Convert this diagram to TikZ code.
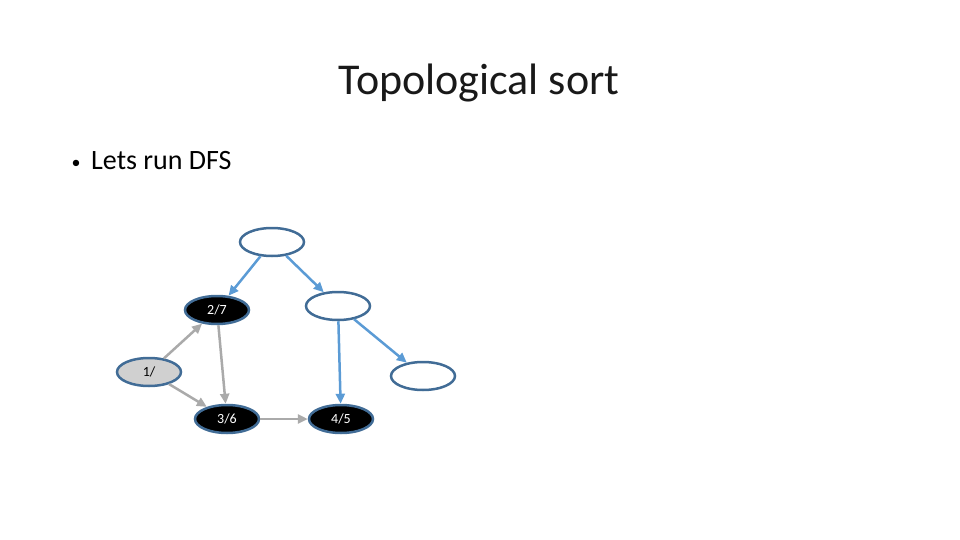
\documentclass[tikz,border=0pt]{standalone}
\usepackage{fontspec}
\setmainfont{Carlito}
\usepackage{tikz}
\usetikzlibrary{arrows.meta,shapes.geometric}
\usepackage{xcolor}
\definecolor{nodeline}{RGB}{65,108,150}
\definecolor{treeedge}{RGB}{91,155,213}
\definecolor{visitedge}{RGB}{170,170,170}
\definecolor{startfill}{RGB}{208,208,208}

\begin{document}
\begin{tikzpicture}[
  x=1pt,y=-1pt,
  vertex/.style={
    ellipse,draw=nodeline,line width=2.5pt,
    minimum width=64pt,minimum height=28pt,
    inner sep=0pt,font=\fontsize{14}{16}\selectfont,
    },
  done/.style={vertex,fill=black,text=white},
  tree/.style={draw=treeedge,line width=2.5pt,
    -{Triangle[width=9pt,length=10pt]}},
  visit/.style={draw=visitedge,line width=2.5pt,
    -{Triangle[width=9pt,length=10pt]}},
  ]
  \useasboundingbox (0,0) rectangle (960,540);

  \node[font=\fontsize{44}{52}\selectfont,anchor=base,text=black!90]
    (title) at (479,95) {Topological sort};
  \node[font=\fontsize{18}{20}\selectfont,anchor=base,inner sep=0pt]
    (dot) at (76,168) {\textbullet};
  \node[font=\fontsize{28}{34}\selectfont,anchor=base west,inner sep=0pt]
    (bullet) at (91,170) {Lets run DFS};

  \node[vertex] (top) at (272,242) {};
  \node[done] (b) at (217,310) {2/7};
  \node[vertex] (c) at (338,306) {};
  \node[vertex,fill=startfill] (a) at (149,372) {1/};
  \node[vertex] (e) at (423,376) {};
  \node[done] (d) at (227,419) {3/6};
  \node[done] (f) at (341,419) {4/5};

  \draw[tree] (top) -- (b);
  \draw[tree] (top) -- (c);
  \draw[tree] (c) -- (f);
  \draw[tree] (c) -- (e);
  % \draw[tree] (e) -- (f);

  \draw[visit] (a) -- (b);
  \draw[visit] (a) -- (d);
  \draw[visit] (b) -- (d);
  \draw[visit] (d) -- (f);
\end{tikzpicture}
\end{document}
